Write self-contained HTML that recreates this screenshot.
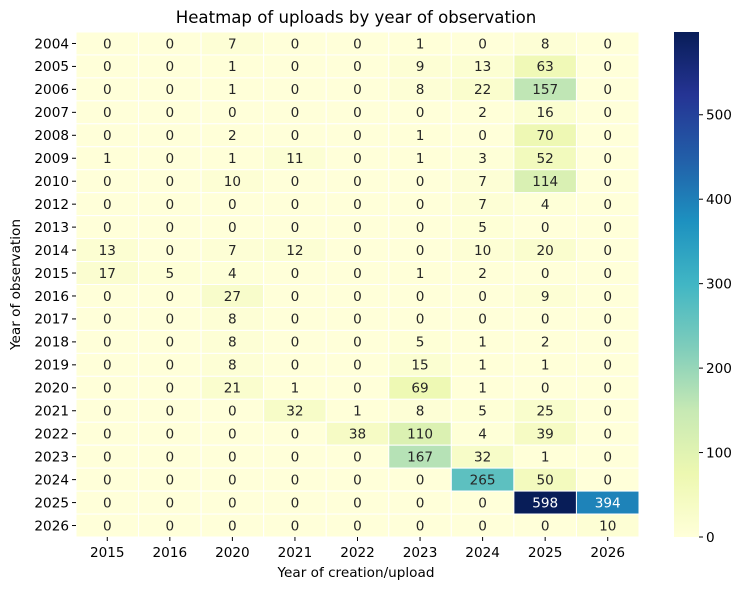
<!DOCTYPE html><html><head><style>body{margin:0;background:#fff}</style></head><body>
<svg id="s" width="745" height="590" xmlns="http://www.w3.org/2000/svg" font-family="DejaVu Sans, sans-serif"></svg>
<script>
const rows=["2004","2005","2006","2007","2008","2009","2010","2012","2013","2014","2015","2016","2017","2018","2019","2020","2021","2022","2023","2024","2025","2026"];
const cols=["2015","2016","2020","2021","2022","2023","2024","2025","2026"];
const D=[[0,0,7,0,0,1,0,8,0],[0,0,1,0,0,9,13,63,0],[0,0,1,0,0,8,22,157,0],[0,0,0,0,0,0,2,16,0],[0,0,2,0,0,1,0,70,0],[1,0,1,11,0,1,3,52,0],[0,0,10,0,0,0,7,114,0],[0,0,0,0,0,0,7,4,0],[0,0,0,0,0,0,5,0,0],[13,0,7,12,0,0,10,20,0],[17,5,4,0,0,1,2,0,0],[0,0,27,0,0,0,0,9,0],[0,0,8,0,0,0,0,0,0],[0,0,8,0,0,5,1,2,0],[0,0,8,0,0,15,1,1,0],[0,0,21,1,0,69,1,0,0],[0,0,0,32,1,8,5,25,0],[0,0,0,0,38,110,4,39,0],[0,0,0,0,0,167,32,1,0],[0,0,0,0,0,0,265,50,0],[0,0,0,0,0,0,0,598,394],[0,0,0,0,0,0,0,0,10]];
const st=["#ffffd9","#edf8b1","#c7e9b4","#7fcdbb","#41b6c4","#1d91c0","#225ea8","#253494","#081d58"].map(h=>[1,3,5].map(i=>parseInt(h.substr(i,2),16)));
function cm(t){t=Math.max(0,Math.min(1,t))*8;let i=Math.min(7,Math.floor(t)),f=t-i;return st[i].map((c,k)=>c+(st[i+1][k]-c)*f);}
const L=76,T=32,W=563,H=505,cw=W/9,rh=H/22,M=598,FS=13.6;let o='';
o+=`<text x="356" y="23" font-size="16.6" text-anchor="middle">Heatmap of uploads by year of observation</text>`;
D.forEach((r,i)=>r.forEach((v,j)=>{const c=cm(v/M);const x=L+j*cw,y=T+i*rh;
o+=`<rect x="${x}" y="${y}" width="${cw}" height="${rh}" fill="rgb(${c.map(Math.round)})" stroke="#fff" stroke-width="1"/>`;
const lum=c.map(u=>{u/=255;return u<=0.03928?u/12.92:Math.pow((u+0.055)/1.055,2.4)});const l=0.2126*lum[0]+0.7152*lum[1]+0.0722*lum[2];
o+=`<text x="${x+cw/2}" y="${y+rh/2+4.8}" font-size="${FS}" text-anchor="middle" fill="${l>0.408?'#262626':'#fff'}">${v}</text>`;}));
rows.forEach((r,i)=>{const y=T+(i+.5)*rh;o+=`<line x1="${L-4}" y1="${y}" x2="${L}" y2="${y}" stroke="#000"/><text x="${L-7}" y="${y+4.8}" font-size="${FS}" text-anchor="end">${r}</text>`;});
cols.forEach((c,j)=>{const x=L+(j+.5)*cw;o+=`<line x1="${x}" y1="${T+H}" x2="${x}" y2="${T+H+4}" stroke="#000"/><text x="${x}" y="${T+H+20}" font-size="${FS}" text-anchor="middle">${c}</text>`;});
o+=`<text x="356" y="577" font-size="${FS}" text-anchor="middle">Year of creation/upload</text>`;
o+=`<text transform="translate(20,${T+H/2}) rotate(-90)" font-size="${FS}" text-anchor="middle">Year of observation</text>`;
o+=`<defs><linearGradient id="g" x1="0" y1="1" x2="0" y2="0">${st.map((c,i)=>`<stop offset="${i/8}" stop-color="rgb(${c})"/>`).join('')}</linearGradient></defs>`;
o+=`<rect x="674" y="${T}" width="25" height="${H}" fill="url(#g)"/>`;
for(let v=0;v<=500;v+=100){const y=T+H-v/M*H;o+=`<line x1="699" y1="${y}" x2="703" y2="${y}" stroke="#000"/><text x="706" y="${y+4.8}" font-size="${FS}">${v}</text>`;}
document.getElementById('s').innerHTML=o;
</script></body></html>
